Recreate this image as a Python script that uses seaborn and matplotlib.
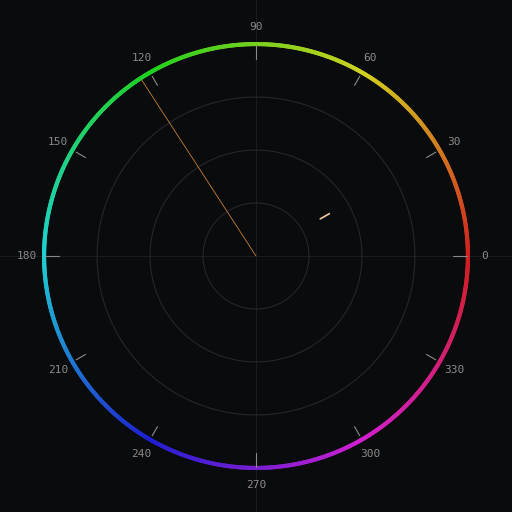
import numpy as np
import matplotlib
matplotlib.use("Agg")
import matplotlib.pyplot as plt
import seaborn as sns
import pandas as pd
from matplotlib.collections import LineCollection
import colorsys

sns.set_style("dark")
plt.rcParams['font.family'] = ['DejaVu Sans Mono', 'DejaVu Sans']

BG = '#0a0b0d'
tick_angles = [0, 30, 60, 90, 120, 150, 180, 210, 240, 270, 300, 330]
grid_radii = [0.25, 0.5, 0.75]
# pointer from centre and short vector mark
pointer_angle = 123
pointer_r = [0.0, 0.99]
mark_angle = 30
mark_r = [0.35, 0.40]

fig = plt.figure(figsize=(5.12, 5.12), dpi=100, facecolor=BG)
ax = fig.add_axes([0, 0, 1, 1])
ax.set_facecolor(BG)
ax.set_xlim(-1.208, 1.208)
ax.set_ylim(-1.208, 1.208)
ax.set_aspect('equal')
ax.axis('off')

# crosshair
ax.axhline(0, color='#1a1c20', lw=0.8, zorder=0)
ax.axvline(0, color='#1a1c20', lw=0.8, zorder=0)

t = np.linspace(0, 2 * np.pi, 400)
for r in grid_radii:
    ax.plot(r * np.cos(t), r * np.sin(t), color='#25272b', lw=0.8)

# hue ring
th = np.linspace(0, 2 * np.pi, 721)
pts = np.column_stack([np.cos(th), np.sin(th)])
segs = np.stack([pts[:-1], pts[1:]], axis=1)
cols = [colorsys.hsv_to_rgb((a / (2 * np.pi)) % 1, 0.85, 0.82) for a in th[:-1]]
ax.add_collection(LineCollection(segs, colors=cols, linewidths=3, capstyle='round'))

for a in tick_angles:
    rad = np.deg2rad(a)
    r0, r1 = (0.93, 0.995) if a % 90 == 0 else (0.93, 0.98)
    ax.plot([r0 * np.cos(rad), r1 * np.cos(rad)], [r0 * np.sin(rad), r1 * np.sin(rad)],
            color='#8a8a8a', lw=0.8)
    ax.text(1.08 * np.cos(rad), 1.08 * np.sin(rad), str(a), color='#8a8a8a',
            fontsize=8, ha='center', va='center')

df = pd.DataFrame({
    'x': [r * np.cos(np.deg2rad(pointer_angle)) for r in pointer_r],
    'y': [r * np.sin(np.deg2rad(pointer_angle)) for r in pointer_r],
})
sns.lineplot(data=df, x='x', y='y', ax=ax, color='#c9803a', lw=0.6, sort=False)
mx = [r * np.cos(np.deg2rad(mark_angle)) for r in mark_r]
my = [r * np.sin(np.deg2rad(mark_angle)) for r in mark_r]
ax.plot(mx, my, color='#f0c8a0', lw=1.2, solid_capstyle='round')
ax.axis('off')

fig.savefig('out.png', dpi=100, facecolor=BG)
